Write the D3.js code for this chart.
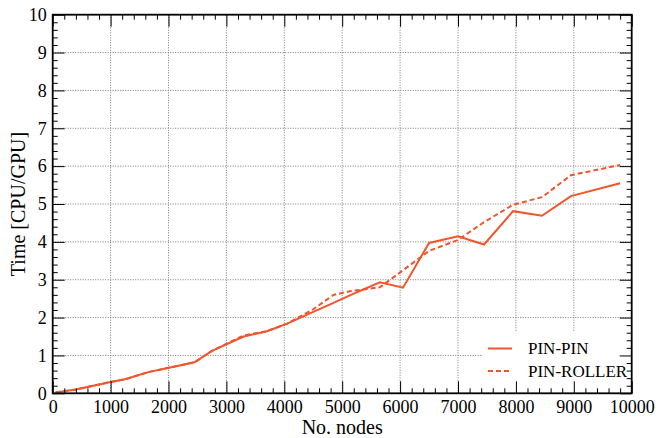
<!DOCTYPE html>
<html>
<head>
<meta charset="utf-8">
<script src="https://cdn.jsdelivr.net/npm/d3@7"></script>
<style>
  body { margin: 0; background: #fff; }
  text { font-family: "Liberation Serif", "Times New Roman", serif; fill: #000; }
</style>
</head>
<body>
<div id="chart"></div>
<script>
// data
var nodes = [50, 400, 1000, 1250, 1650, 2050, 2450, 2750, 3300, 3700, 4050, 4500, 4850, 5150, 5650, 6050, 6500, 7000, 7450, 7950, 8450, 8950, 9800];
var pinPin = [0.02, 0.1, 0.3, 0.37, 0.56, 0.69, 0.82, 1.12, 1.5, 1.64, 1.84, 2.15, 2.39, 2.6, 2.93, 2.79, 3.97, 4.15, 3.93, 4.81, 4.69, 5.21, 5.55];
var pinRoller = [0.02, 0.1, 0.3, 0.37, 0.56, 0.69, 0.82, 1.12, 1.53, 1.64, 1.84, 2.22, 2.6, 2.7, 2.8, 3.25, 3.76, 4.05, 4.52, 4.98, 5.18, 5.76, 6.03];
var seriesNames = ["PIN-PIN", "PIN-ROLLER"];
var xTicks = [0, 1000, 2000, 3000, 4000, 5000, 6000, 7000, 8000, 9000, 10000];
var yTicks = [0, 1, 2, 3, 4, 5, 6, 7, 8, 9, 10];

function drawChart() {
    var width = 656, height = 438;
    var pLeft = 52.7, pRight = 631.7, pTop = 14.7, pBottom = 393.3;
    var color = "#f0552c";

    var svg = d3.select("#chart").append("svg")
        .attr("width", width)
        .attr("height", height);

    var x = d3.scaleLinear().domain([0, 10000]).range([pLeft, pRight]);
    var y = d3.scaleLinear().domain([0, 10]).range([pBottom, pTop]);

    // grid
    var grid = svg.append("g").attr("class", "grid");
    grid.selectAll(".gx").data(xTicks.slice(1, -1)).enter().append("line")
        .attr("x1", function(d) { return x(d); })
        .attr("x2", function(d) { return x(d); })
        .attr("y1", pBottom).attr("y2", pTop);
    grid.selectAll(".gy").data(yTicks.slice(1, -1)).enter().append("line")
        .attr("y1", function(d) { return y(d); })
        .attr("y2", function(d) { return y(d); })
        .attr("x1", pLeft).attr("x2", pRight);
    grid.selectAll("line")
        .attr("stroke", "#7a7a7a")
        .attr("stroke-width", 1)
        .attr("stroke-dasharray", "1,1.5");

    // legend background hides the grid
    svg.append("rect")
        .attr("x", 483).attr("y", 332)
        .attr("width", pRight - 483).attr("height", pBottom - 332)
        .attr("fill", "#fff");

    // lines
    var line = d3.line()
        .x(function(d) { return x(d[0]); })
        .y(function(d) { return y(d[1]); });

    svg.append("path")
        .datum(d3.zip(nodes, pinRoller))
        .attr("d", line)
        .attr("fill", "none")
        .attr("stroke", color)
        .attr("stroke-width", 2)
        .attr("stroke-dasharray", "5,3");

    svg.append("path")
        .datum(d3.zip(nodes, pinPin))
        .attr("d", line)
        .attr("fill", "none")
        .attr("stroke", color)
        .attr("stroke-width", 2);

    // axes, ticks inside on all four sides
    var minorX = d3.range(0, 10001, 200).filter(function(d) { return d % 1000 !== 0; });
    var minorY = d3.range(0, 51, 1).map(function(d) { return d / 5; }).filter(function(d) { return d % 1 !== 0; });

    function styleAxis(g) {
        g.select(".domain").remove();
        g.selectAll("line").attr("stroke", "#000").attr("stroke-width", 1);
        g.selectAll("text")
            .attr("font-family", "Liberation Serif, serif")
            .attr("font-size", 18);
    }

    svg.append("g").attr("transform", "translate(0," + pBottom + ")")
        .call(d3.axisBottom(x).tickValues(xTicks).tickSize(-12).tickPadding(6.5).tickFormat(d3.format("d")))
        .call(styleAxis);
    svg.append("g").attr("transform", "translate(0," + pBottom + ")")
        .call(d3.axisBottom(x).tickValues(minorX).tickSize(-5).tickFormat(""))
        .call(styleAxis);
    svg.append("g").attr("transform", "translate(0," + pTop + ")")
        .call(d3.axisTop(x).tickValues(xTicks).tickSize(-12).tickFormat(""))
        .call(styleAxis);
    svg.append("g").attr("transform", "translate(0," + pTop + ")")
        .call(d3.axisTop(x).tickValues(minorX).tickSize(-5).tickFormat(""))
        .call(styleAxis);

    svg.append("g").attr("transform", "translate(" + pLeft + ",0)")
        .call(d3.axisLeft(y).tickValues(yTicks).tickSize(-12).tickPadding(6).tickFormat(d3.format("d")))
        .call(styleAxis);
    svg.append("g").attr("transform", "translate(" + pLeft + ",0)")
        .call(d3.axisLeft(y).tickValues(minorY).tickSize(-5).tickFormat(""))
        .call(styleAxis);
    svg.append("g").attr("transform", "translate(" + pRight + ",0)")
        .call(d3.axisRight(y).tickValues(yTicks).tickSize(-12).tickFormat(""))
        .call(styleAxis);
    svg.append("g").attr("transform", "translate(" + pRight + ",0)")
        .call(d3.axisRight(y).tickValues(minorY).tickSize(-5).tickFormat(""))
        .call(styleAxis);

    // frame
    svg.append("rect")
        .attr("x", pLeft).attr("y", pTop)
        .attr("width", pRight - pLeft).attr("height", pBottom - pTop)
        .attr("fill", "none")
        .attr("stroke", "#000")
        .attr("stroke-width", 1.8);

    // axis titles
    svg.append("text")
        .attr("x", (pLeft + pRight) / 2)
        .attr("y", 434)
        .attr("text-anchor", "middle")
        .attr("font-size", 20)
        .text("No. nodes");

    svg.append("text")
        .attr("transform", "translate(25," + (pTop + pBottom) / 2 + ") rotate(-90)")
        .attr("text-anchor", "middle")
        .attr("font-size", 20)
        .text("Time [CPU/GPU]");

    // legend
    var legend = svg.append("g");
    seriesNames.forEach(function(name, i) {
        var ly = 348.5 + i * 22.5;
        legend.append("line")
            .attr("x1", 488).attr("x2", 512)
            .attr("y1", ly).attr("y2", ly)
            .attr("stroke", color)
            .attr("stroke-width", 2)
            .attr("stroke-dasharray", i === 1 ? "5,3" : null);
        legend.append("text")
            .attr("x", 528)
            .attr("y", ly)
            .attr("dy", "0.35em")
            .attr("font-size", 17)
            .text(name);
    });
}

drawChart();
</script>
</body>
</html>
